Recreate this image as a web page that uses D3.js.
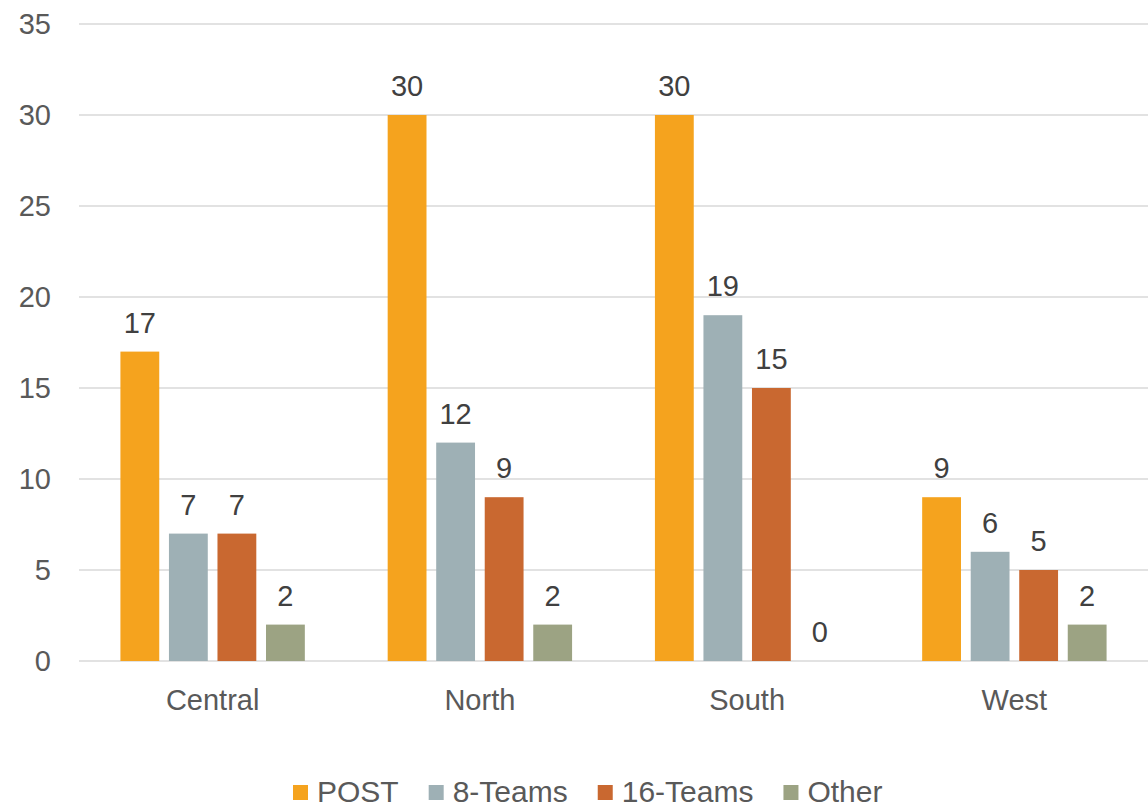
<!DOCTYPE html>
<html>
<head>
<meta charset="utf-8">
<script src="https://cdn.jsdelivr.net/npm/d3@7"></script>
<style>
  body { margin: 0; background: #fff; }
  text { font-family: "Liberation Sans", Arial, sans-serif; }
</style>
</head>
<body>
<div class="chart"></div>
<script>
const categories = ["Central", "North", "South", "West"];
const seriesNames = ["POST", "8-Teams", "16-Teams", "Other"];
const post = [17, 30, 30, 9];
const eightTeams = [7, 12, 19, 6];
const sixteenTeams = [7, 9, 15, 5];
const other = [2, 2, 0, 2];
const yTicks = [0, 5, 10, 15, 20, 25, 30, 35];
const colors = ["#f5a31e", "#9eb0b5", "#c96830", "#9ca383"];

const seriesValues = [post, eightTeams, sixteenTeams, other];
const rows = categories.map((c, i) => ({
  category: c,
  values: seriesNames.map((s, j) => ({ key: s, value: seriesValues[j][i] })),
}));

const width = 1148, height = 809;
const margin = { top: 24, right: 0, bottom: 148, left: 79 };

const svg = d3.select(".chart").append("svg")
  .attr("width", width).attr("height", height);

const x0 = d3.scaleBand().domain(categories)
  .range([margin.left, width - margin.right])
  .paddingInner(0.31).paddingOuter(0.155);
const x1 = d3.scaleBand().domain(seriesNames)
  .range([0, x0.bandwidth()])
  .paddingInner(0.2).paddingOuter(0);
const y = d3.scaleLinear().domain([0, 35]).range([height - margin.bottom, margin.top]);
const color = d3.scaleOrdinal().domain(seriesNames).range(colors);

// gridlines and y labels
const yAxis = svg.append("g");
yAxis.selectAll("line").data(yTicks).enter().append("line")
  .attr("x1", margin.left).attr("x2", width)
  .attr("y1", (d) => y(d)).attr("y2", (d) => y(d))
  .attr("stroke", "#d9d9d9").attr("stroke-width", 1.6);
yAxis.selectAll("text").data(yTicks).enter().append("text")
  .attr("x", 51).attr("y", (d) => y(d)).attr("dy", "0.36em")
  .attr("text-anchor", "end").attr("fill", "#595959")
  .style("font-size", "29px")
  .text((d) => d);

// bars
const groups = svg.selectAll(".group").data(rows).enter().append("g")
  .attr("class", "group")
  .attr("transform", (d) => "translate(" + x0(d.category) + ",0)");

groups.selectAll("rect").data((d) => d.values).enter().append("rect")
  .attr("x", (d) => x1(d.key))
  .attr("y", (d) => y(d.value))
  .attr("width", x1.bandwidth())
  .attr("height", (d) => y(0) - y(d.value))
  .attr("fill", (d) => color(d.key));

groups.selectAll(".val").data((d) => d.values).enter().append("text")
  .attr("class", "val")
  .attr("x", (d) => x1(d.key) + x1.bandwidth() / 2)
  .attr("y", (d) => y(d.value) - 19)
  .attr("text-anchor", "middle").attr("fill", "#404040")
  .style("font-size", "29px")
  .text((d) => d.value);

// category labels
svg.append("g").selectAll("text").data(categories).enter().append("text")
  .attr("x", (d) => x0(d) + x0.bandwidth() / 2)
  .attr("y", 710)
  .attr("text-anchor", "middle").attr("fill", "#595959")
  .style("font-size", "29px")
  .text((d) => d);

// legend
const legend = svg.append("g").attr("class", "legend");
let lx = 293;
seriesNames.forEach((s) => {
  const g = legend.append("g").attr("transform", "translate(" + lx + ",0)");
  g.append("rect").attr("x", 0).attr("y", 785)
    .attr("width", 15).attr("height", 15).attr("fill", color(s));
  const t = g.append("text")
    .attr("x", 24).attr("y", 802)
    .attr("fill", "#595959")
    .style("font-size", "30px")
    .text(s);
  lx += 24 + t.node().getComputedTextLength() + 30;
});
</script>
</body>
</html>
